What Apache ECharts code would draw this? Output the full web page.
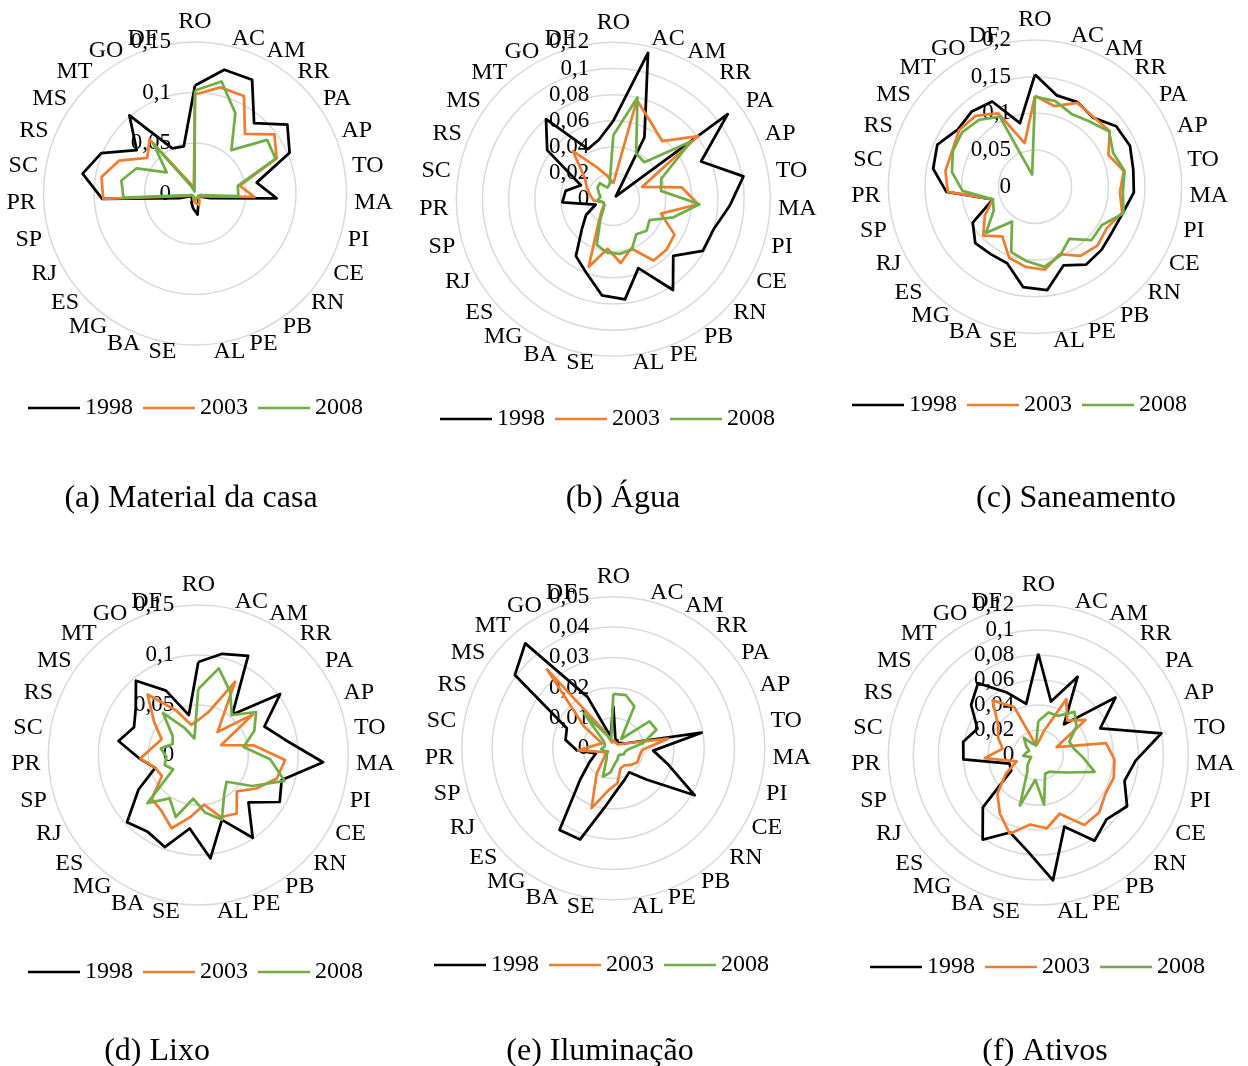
<!DOCTYPE html>
<html>
<head>
<meta charset="utf-8">
<script src="https://cdn.jsdelivr.net/npm/echarts@6/dist/echarts.min.js"></script>
<style>
  html, body { margin: 0; padding: 0; background: #ffffff; }
  #chart { width: 1248px; height: 1066px; }
</style>
</head>
<body>
<div id="chart"></div>
<script>
// Brazilian states, listed clockwise from the top of each radar
const states = ['RO','AC','AM','RR','PA','AP','TO','MA','PI','CE','RN','PB','PE','AL','SE','BA','MG','ES','RJ','SP','PR','SC','RS','MS','MT','GO','DF'];
const years = ['1998', '2003', '2008'];
const yearColors = ['#000000', '#ED7D31', '#70AD47'];

// (a) Material da casa
const casa1998 = [0.107,0.126,0.126,0.091,0.114,0.102,0.062,0.081,0.016,0.006,0.005,0.006,0.010,0.021,0.015,0.010,0.005,0.005,0.005,0.016,0.092,0.113,0.101,0.072,0.101,0.050,0.048];
const casa2003 = [0.098,0.108,0.108,0.077,0.098,0.088,0.045,0.059,0.010,0.005,0.005,0.008,0.012,0.010,0.008,0.005,0.003,0.003,0.003,0.008,0.091,0.094,0.082,0.059,0.070,0.012,0.005];
const casa2008 = [0.102,0.114,0.089,0.056,0.089,0.087,0.043,0.043,0.006,0.004,0.004,0.004,0.005,0.006,0.005,0.004,0.003,0.003,0.003,0.006,0.071,0.074,0.063,0.035,0.064,0.008,0.002];

// (b) Água
const agua1998 = [0.060,0.115,0.053,0.003,0.109,0.073,0.101,0.089,0.080,0.079,0.063,0.083,0.056,0.077,0.074,0.060,0.052,0.033,0.024,0.014,0.039,0.037,0.027,0.063,0.080,0.043,0.047];
const agua2003 = [0.012,0.078,0.065,0.058,0.081,0.024,0.053,0.065,0.038,0.054,0.056,0.056,0.040,0.049,0.038,0.055,0.020,0.012,0.008,0.008,0.015,0.018,0.022,0.027,0.048,0.027,0.018];
const agua2008 = [0.049,0.080,0.039,0.037,0.074,0.040,0.037,0.066,0.048,0.032,0.035,0.032,0.041,0.042,0.041,0.037,0.018,0.010,0.008,0.008,0.012,0.010,0.012,0.015,0.016,0.010,0.012];

// (c) Saneamento
const san1998 = [0.153,0.128,0.129,0.123,0.138,0.141,0.136,0.135,0.125,0.122,0.125,0.127,0.114,0.142,0.138,0.111,0.110,0.112,0.098,0.060,0.121,0.141,0.145,0.131,0.134,0.130,0.089];
const san2003 = [0.124,0.113,0.128,0.124,0.127,0.109,0.123,0.116,0.124,0.113,0.117,0.113,0.098,0.114,0.110,0.103,0.081,0.097,0.079,0.060,0.119,0.124,0.123,0.129,0.126,0.112,0.061];
const san2008 = [0.123,0.120,0.111,0.116,0.126,0.116,0.124,0.120,0.126,0.105,0.106,0.085,0.100,0.110,0.102,0.095,0.057,0.092,0.065,0.060,0.099,0.115,0.122,0.124,0.119,0.107,0.017];

// (d) Lixo
const lixo1998 = [0.093,0.104,0.111,0.053,0.102,0.072,0.088,0.125,0.087,0.094,0.069,0.099,0.069,0.104,0.074,0.098,0.092,0.098,0.069,0.045,0.059,0.081,0.070,0.078,0.097,0.072,0.041];
const lixo2003 = [0.035,0.044,0.082,0.030,0.068,0.025,0.056,0.087,0.082,0.067,0.053,0.070,0.066,0.050,0.062,0.078,0.067,0.064,0.042,0.045,0.058,0.046,0.040,0.055,0.079,0.050,0.031];
const lixo2008 = [0.066,0.089,0.071,0.052,0.072,0.061,0.046,0.072,0.090,0.062,0.039,0.047,0.069,0.058,0.044,0.066,0.052,0.070,0.029,0.035,0.032,0.038,0.028,0.032,0.055,0.030,0.017];

// (e) Iluminação
const ilum1998 = [0.014,0.003,0.003,0.002,0.003,0.004,0.0296,0.0132,0.019,0.031,0.015,0.0095,0.011,0.0134,0.0187,0.032,0.0323,0.015,0.009,0.006,0.012,0.016,0.0167,0.0405,0.0452,0.019,0.004];
const ilum2003 = [0.003,0.002,0.002,0.002,0.002,0.004,0.0184,0.0095,0.009,0.0092,0.008,0.0067,0.007,0.0116,0.014,0.021,0.010,0.004,0.003,0.004,0.0116,0.006,0.004,0.012,0.034,0.006,0.002];
const ilum2008 = [0.018,0.018,0.0155,0.004,0.0149,0.0155,0.010,0.005,0.004,0.004,0.003,0.003,0.004,0.005,0.008,0.010,0.004,0.003,0.002,0.003,0.004,0.003,0.003,0.004,0.015,0.005,0.003];

// (f) Ativos
const ativ1998 = [0.081,0.044,0.070,0.032,0.077,0.054,0.100,0.078,0.072,0.082,0.075,0.082,0.061,0.101,0.077,0.066,0.081,0.061,0.025,0.024,0.060,0.061,0.053,0.067,0.075,0.056,0.042];
const ativ2003 = [0.010,0.020,0.050,0.036,0.047,0.016,0.055,0.061,0.063,0.062,0.067,0.067,0.050,0.059,0.056,0.067,0.056,0.045,0.030,0.018,0.043,0.029,0.035,0.040,0.057,0.043,0.008];
const ativ2008 = [0.027,0.035,0.035,0.045,0.038,0.027,0.029,0.036,0.047,0.028,0.020,0.016,0.016,0.040,0.020,0.043,0.016,0.012,0.008,0.006,0.012,0.010,0.008,0.012,0.018,0.010,0.008];

// Radial axis scale of each panel: maximum and tick step
const axisMax  = [0.15, 0.12, 0.2, 0.15, 0.05, 0.12];
const axisStep = [0.05, 0.02, 0.05, 0.05, 0.01, 0.02];
const captions = ['(a) Material da casa', '(b) Água', '(c) Saneamento', '(d) Lixo', '(e) Iluminação', '(f) Ativos'];

const FONT = '"Liberation Serif", "Times New Roman", serif';

const panels = [
  { values: [casa1998, casa2003, casa2008], center: [195, 193.5], radius: 151.5, legend: [28, 407],  title: [191, 483] },
  { values: [agua1998, agua2003, agua2008], center: [613.3, 199.3], radius: 157, legend: [440, 418], title: [623, 483] },
  { values: [san1998,  san2003,  san2008],  center: [1035, 186.7], radius: 146.7, legend: [852, 404], title: [1076, 483] },
  { values: [lixo1998, lixo2003, lixo2008], center: [198.3, 755], radius: 150, legend: [28, 971],   title: [157, 1036] },
  { values: [ilum1998, ilum2003, ilum2008], center: [613.3, 748.3], radius: 151.5, legend: [434, 964], title: [600, 1036] },
  { values: [ativ1998, ativ2003, ativ2008], center: [1038.3, 755], radius: 150, legend: [870, 966],  title: [1045, 1036] }
];

// ECharts lays radar indicators out counter-clockwise; keep the first one at
// the top and reverse the rest so the states run clockwise.
const clockwise = arr => [arr[0]].concat(arr.slice(1).reverse());

const tickFormat = v => String(parseFloat(Number(v).toFixed(4))).replace('.', ',');

const option = {
  animation: false,
  backgroundColor: '#ffffff',
  title: panels.map((p, i) => ({
    text: captions[i],
    left: p.title[0],
    top: p.title[1],
    textAlign: 'center',
    padding: 0,
    textStyle: { fontFamily: FONT, fontSize: 32, fontWeight: 'normal', color: '#000' }
  })),
  legend: panels.map(p => ({
    data: years,
    left: p.legend[0],
    top: p.legend[1] - 11,
    padding: 0,
    icon: 'rect',
    itemWidth: 52,
    itemHeight: 2.5,
    itemGap: 10,
    selectedMode: false,
    textStyle: { fontFamily: FONT, fontSize: 24, color: '#000' }
  })),
  radar: panels.map((p, i) => ({
    center: p.center,
    radius: p.radius,
    shape: 'circle',
    startAngle: 90,
    splitNumber: Math.round(axisMax[i] / axisStep[i]),
    nameGap: 8,
    axisName: { color: '#000', fontFamily: FONT, fontSize: 24 },
    indicator: clockwise(states).map((s, k) => {
      const ind = { name: s, min: 0, max: axisMax[i] };
      if (k === 0) {
        ind.axisLabel = {
          show: true, color: '#000', fontFamily: FONT, fontSize: 23,
          margin: 24, formatter: tickFormat, showMinLabel: true, showMaxLabel: true
        };
      }
      return ind;
    }),
    splitLine: { lineStyle: { color: '#d9d9d9', width: 1.5 } },
    splitArea: { show: false },
    axisLine: { show: false },
    axisTick: { show: false },
    axisLabel: { show: false }
  })),
  series: panels.flatMap((p, pi) => years.map((y, yi) => ({
    type: 'radar',
    radarIndex: pi,
    name: y,
    symbol: 'none',
    silent: true,
    itemStyle: { color: yearColors[yi] },
    lineStyle: { color: yearColors[yi], width: 2.75 },
    data: [{ name: y, value: clockwise(p.values[yi]) }]
  })))
};

const chart = echarts.init(document.getElementById('chart'), null, { renderer: 'canvas' });
chart.setOption(option);
</script>
</body>
</html>
